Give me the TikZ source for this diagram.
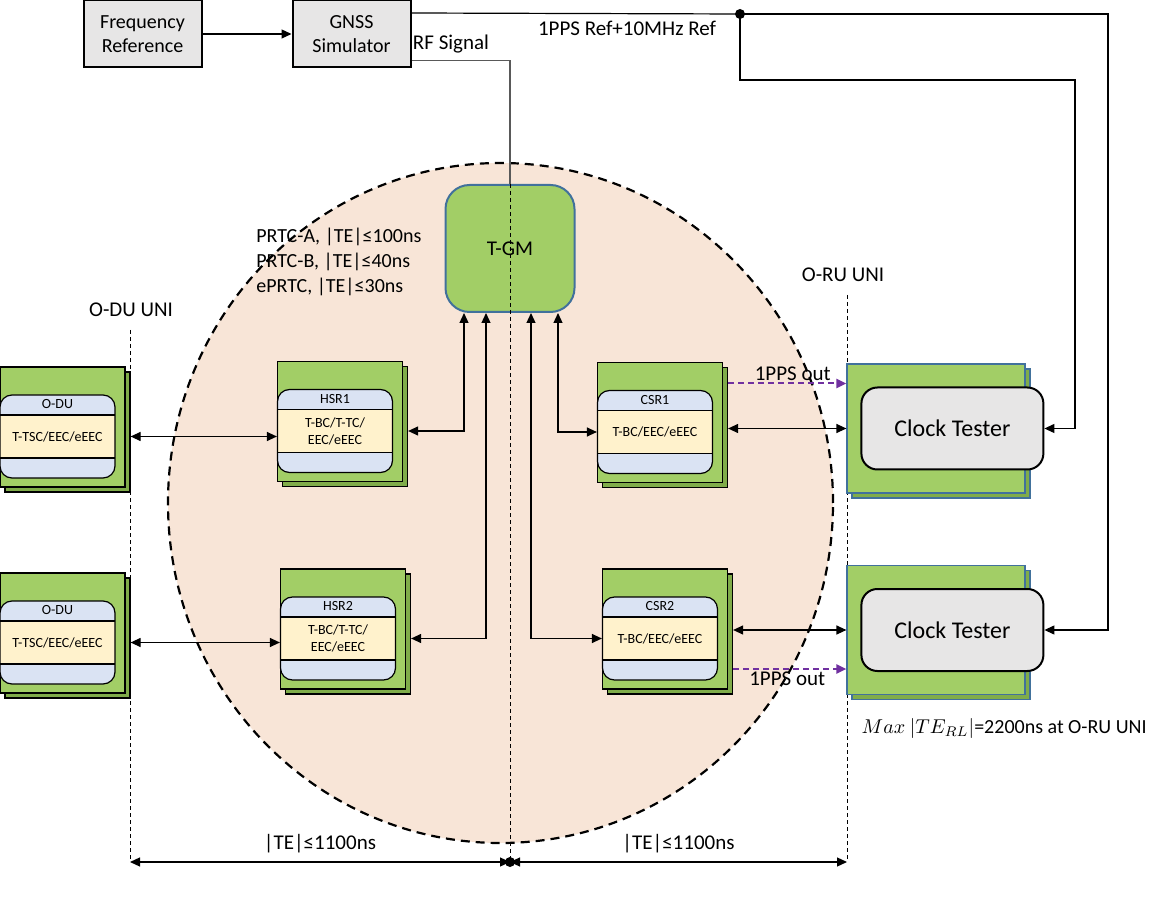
\documentclass[tikz,border=0pt]{standalone}
\usepackage{fontspec}
\setmainfont{Carlito}
\usetikzlibrary{positioning,arrows.meta,shadows}

\definecolor{rackgreen}{RGB}{162,206,102}
\definecolor{rackside}{RGB}{128,172,74}
\definecolor{edgeblue}{RGB}{65,113,156}
\definecolor{bandblue}{RGB}{218,227,243}
\definecolor{bandyellow}{RGB}{255,242,204}
\definecolor{peach}{RGB}{248,229,215}
\definecolor{boxgray}{RGB}{231,230,230}
\definecolor{ppspurple}{RGB}{112,48,160}

\begin{document}
\begin{tikzpicture}[x=0.5pt,y=-0.5pt,
    refbox/.style={draw, line width=1pt, fill=boxgray, minimum width=59pt, minimum height=33.5pt, align=center, inner sep=1pt, font=\fontsize{10}{12}\selectfont},
    rack/.style={draw, line width=0.6pt, fill=rackgreen, minimum width=62.5pt, minimum height=60pt,
        copy shadow={shadow xshift=2.5pt, shadow yshift=-2.5pt, fill=rackside, draw=black, line width=0.6pt}},
    testrack/.style={rack, draw=edgeblue, minimum width=89pt, minimum height=64.5pt,
        copy shadow={shadow xshift=2.5pt, shadow yshift=-2.5pt, fill=rackside, draw=edgeblue, line width=0.6pt}},
    card/.style={draw, line width=0.6pt, rounded corners=6pt, fill=bandyellow, minimum width=57.5pt, minimum height=41.5pt,
        inner sep=0pt, align=center, font=\fontsize{7}{8.5}\selectfont,
        path picture={
            \fill[bandblue, sharp corners] (path picture bounding box.north west) rectangle ([yshift=-10pt]path picture bounding box.north east);
            \fill[bandblue, sharp corners] (path picture bounding box.south west) rectangle ([yshift=10pt]path picture bounding box.south east);
            \draw[line width=0.6pt, sharp corners] ([yshift=-10pt]path picture bounding box.north west) -- ([yshift=-10pt]path picture bounding box.north east);
            \draw[line width=0.6pt, sharp corners] ([yshift=10pt]path picture bounding box.south west) -- ([yshift=10pt]path picture bounding box.south east);
        }},
    cardtitle/.style={inner sep=0pt, font=\fontsize{7}{8.5}\selectfont},
    tester/.style={draw, line width=1pt, fill=boxgray, rounded corners=8pt, minimum width=91pt, minimum height=41pt, font=\fontsize{12}{14}\selectfont},
    lbl/.style={inner sep=1pt, font=\fontsize{10.5}{12.5}\selectfont},
    link/.style={draw, line width=0.6pt, {Triangle[length=5pt,width=4.5pt]}-{Triangle[length=5pt,width=4.5pt]}},
    wire/.style={draw, line width=0.6pt},
    pps/.style={draw=ppspurple, line width=1pt, dash pattern=on 3pt off 2pt, -{Triangle[length=5pt,width=4.5pt]}},
    uni/.style={draw, line width=0.5pt, dash pattern=on 2pt off 1.5pt}]

    \useasboundingbox (0,0) rectangle (1150,897);

    % timing domain
    \path[draw, line width=1.1pt, dash pattern=on 4.5pt off 3pt, fill=peach] (500.5,503) ellipse [x radius=166.25pt, y radius=170pt];

    % UNI reference lines
    \coordinate (oduuni) at (130,330);
    \coordinate (oruuni) at (847,295);
    \coordinate (dimL) at (130,862);
    \coordinate (dimM) at (510,862);
    \coordinate (dimR) at (847,862);
    \path[uni] (oduuni) -- (dimL);
    \path[uni] (oruuni) -- (dimR);

    % reference chain
    \node[refbox] (freq) at (142.5,34) {Frequency\\Reference};
    \node[refbox] (gnss) at (351.5,34) {GNSS\\Simulator};
    \path[wire,-{Triangle[length=5pt,width=4.5pt]}] (freq) -- (gnss);

    \node[draw=edgeblue, line width=1pt, fill=rackgreen, rounded corners=12pt, minimum width=64.5pt, minimum height=63.5pt,
          font=\fontsize{10.5}{12}\selectfont] (tgm) at (510,248.5) {T-GM};
    \path[draw=black!65, line width=0.6pt] ([yshift=-13.25pt]gnss.east) -| (tgm.north);
    \path[uni] (tgm.north) -- (tgm.north |- dimM);

    % racks
    \node[rack] (odu1) at (62.5,427) {};
    \node[rack] (odu2) at (62.5,633) {};
    \node[rack] (hsr1) at (340,421.5) {};
    \node[rack] (hsr2) at (343,629) {};
    \node[rack] (csr1) at (660,422.5) {};
    \node[rack] (csr2) at (665,629) {};
    \node[testrack] (ct1) at (936,428.5) {};
    \node[testrack] (ct2) at (936,630) {};

    \node[card, below right=14pt and 0pt of odu1.north west] (odu1c) {T-TSC/EEC/eEEC};
    \node[card, below right=14pt and 0pt of odu2.north west] (odu2c) {T-TSC/EEC/eEEC};
    \node[card, below right=14pt and 0pt of hsr1.north west] (hsr1c) {T-BC/T-TC/\\EEC/eEEC};
    \node[card, below right=14pt and 0pt of hsr2.north west] (hsr2c) {T-BC/T-TC/\\EEC/eEEC};
    \node[card, below right=14pt and 0pt of csr1.north west] (csr1c) {T-BC/EEC/eEEC};
    \node[card, below right=14pt and 0pt of csr2.north west] (csr2c) {T-BC/EEC/eEEC};
    \node[cardtitle] at ([yshift=-5pt]odu1c.north) {O-DU};
    \node[cardtitle] at ([yshift=-5pt]odu2c.north) {O-DU};
    \node[cardtitle] at ([yshift=-5pt]hsr1c.north) {HSR1};
    \node[cardtitle] at ([yshift=-5pt]hsr2c.north) {HSR2};
    \node[cardtitle] at ([yshift=-5pt]csr1c.north) {CSR1};
    \node[cardtitle] at ([yshift=-5pt]csr2c.north) {CSR2};

    \node[tester, right=7pt of ct1.west] (ct1in) {Clock Tester};
    \node[tester, right=7pt of ct2.west] (ct2in) {Clock Tester};

    % clock distribution
    \path[link, shorten <=2.5pt] (odu1c.center -| odu1.east) -- (odu1c.center -| hsr1.west);
    \path[link, shorten <=2.5pt] (odu2c.center -| odu2.east) -- (odu2c.center -| hsr2.west);
    \path[link, shorten <=2.5pt] (hsr1c.center -| hsr1.east) -| ([xshift=-23pt]tgm.south);
    \path[link, shorten <=2.5pt] (hsr2c.center -| hsr2.east) -| ([xshift=-12pt]tgm.south);
    \path[link] ([xshift=24pt]tgm.south) |- (csr1c.west);
    \path[link] ([xshift=10.5pt]tgm.south) |- (csr2c.west);
    \path[link, shorten <=2.5pt] (ct1.west -| csr1.east) -- (ct1.west);
    \path[link, shorten <=2.5pt] (ct2.west -| csr2.east) -- (ct2.west);

    \coordinate (pps1) at ([yshift=22.5pt]ct1.west);
    \coordinate (pps2) at ([yshift=-19.5pt]ct2.west);
    \path[pps, shorten <=2.5pt] (pps1 -| csr1.east) -- node[lbl, above, xshift=4pt] {1PPS out} (pps1);
    \path[pps, shorten <=2.5pt] (pps2 -| csr2.east) -- node[lbl, below] {1PPS out} (pps2);

    % 1PPS + 10MHz reference to testers
    \coordinate (split) at (740,14);
    \coordinate (east1) at (1075,80);
    \coordinate (east2) at (1108,14);
    \path[wire] ([yshift=-6.75pt]gnss.north east) -- (split);
    \path[wire,-{Triangle[length=5pt,width=4.5pt]}] (split) -- (east2) |- (ct2in.east);
    \path[wire,-{Triangle[length=5pt,width=4.5pt]}] (split) |- (east1) |- (ct1in.east);
    \fill (split) circle (2.5pt);

    % limits
    \path[link] (dimL) -- node[lbl, above=3pt] {|TE|≤1100ns} (dimM);
    \path[link] (dimM) -- node[lbl, above=3pt] {|TE|≤1100ns} (dimR);
    \fill (dimM) circle (2.5pt);

    % labels
    \node[lbl] (ppsref) at (627,28) {1PPS Ref+10MHz Ref};
    \node[lbl] (rfsig) at (451,44) {RF Signal};
    \node[lbl, anchor=west, inner sep=0pt, align=left, font=\fontsize{10}{12.5}\selectfont] (prtc) at (256,262)
        {PRTC-A, |TE|≤100ns\\PRTC-B, |TE|≤40ns\\ePRTC, |TE|≤30ns};
    \node[lbl] (odulbl) at (131,310) {O-DU UNI};
    \node[lbl] (orulbl) at (843,275) {O-RU UNI};
    \node[lbl, anchor=east, inner sep=0pt, font=\fontsize{10}{12}\selectfont] (maxte) at (1147,728) {$Max\ |TE_{RL}|$=2200ns at O-RU UNI};
\end{tikzpicture}
\end{document}
